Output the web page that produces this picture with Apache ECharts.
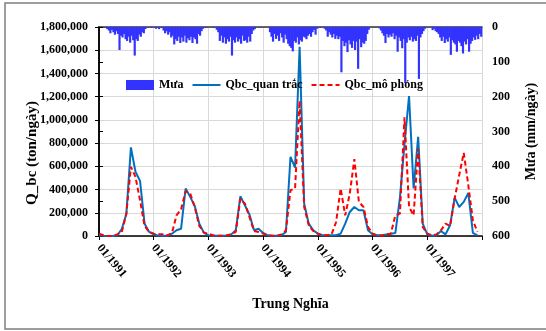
<!DOCTYPE html>
<html>
<head>
<meta charset="utf-8">
<script src="https://cdn.jsdelivr.net/npm/echarts@6/dist/echarts.min.js"></script>
<style>html,body{margin:0;padding:0;background:#fff}#c{width:546px;height:331px}</style>
</head>
<body>
<div id="c"></div>
<script>
// Tick labels (one per year, monthly index axis)
const tickLabels = ['01/1991','01/1992','01/1993','01/1994','01/1995','01/1996','01/1997'];

// Monthly sediment load Qbc (tấn/ngày), Jan 1991 .. Dec 1997
const qbcObserved = [
  5000, 2000, 1000, 1000, 5000, 60000, 190000, 763000, 553000, 475000, 106000, 35000,
  15000, 3000, 2000, 2000, 20000, 50000, 63000, 409000, 337000, 259000, 106000, 29000,
  6000, 3000, 2000, 2000, 5000, 14000, 49000, 342000, 265000, 184000, 49000, 63000,
  26000, 6000, 2000, 2000, 6000, 35000, 682000, 590000, 1630000, 279000, 106000, 49000,
  20000, 6000, 6000, 6000, 6000, 20000, 106000, 207000, 250000, 222000, 222000, 49000,
  14000, 6000, 6000, 14000, 20000, 26000, 330000, 790000, 1206000, 409000, 855000, 106000,
  14000, 2000, 6000, 43000, 14000, 92000, 331000, 250000, 294000, 370000, 26000, 6000
];
const qbcSimulated = [
  20000, 6000, 1000, 1000, 14000, 35000, 193000, 596000, 509000, 308000, 86000, 35000,
  20000, 14000, 14000, 6000, 26000, 178000, 230000, 386000, 366000, 250000, 86000, 29000,
  20000, 6000, 2000, 2000, 6000, 14000, 35000, 322000, 279000, 164000, 43000, 35000,
  20000, 6000, 2000, 2000, 14000, 49000, 394000, 409000, 1165000, 250000, 92000, 43000,
  20000, 6000, 6000, 14000, 120000, 409000, 178000, 366000, 662000, 294000, 250000, 78000,
  20000, 6000, 2000, 14000, 20000, 178000, 193000, 1022000, 250000, 178000, 754000, 78000,
  20000, 6000, 14000, 49000, 106000, 86000, 322000, 524000, 716000, 437000, 135000, 35000
];

// Rainfall (mm/ngày), read per 10-day period (3 per month, 36 per year)
const rain1991 = [0,0,0, 0,3,6, 10,18,8, 15,22,12, 20,66,25, 30,20,35, 40,28,45, 25,38,82, 35,40,22, 28,15,18, 6,2,0, 0,3,0];
const rain1992 = [0,5,0, 6,0,3, 10,18,12, 22,15,30, 25,50,35, 40,28,46, 30,42,25, 45,32,38, 28,46,30, 35,48,20, 25,12,5, 0,3,0];
const rain1993 = [0,0,0, 3,0,8, 15,40,25, 45,30,48, 35,42,28, 82,38,45, 30,42,35, 48,25,40, 38,45,28, 42,20,10, 6,0,0, 0,2,0];
const rain1994 = [0,0,0, 0,15,28, 42,20,34, 25,40,18, 30,45,22, 35,48,55, 60,70,40, 45,30,50, 38,42,28, 30,35,25, 20,28,15, 8,22,5];
const rain1995 = [0,3,0, 0,5,10, 28,15,22, 30,20,34, 25,35,28, 130,40,55, 45,72,38, 50,60,40, 66,42,120, 35,58,45, 48,40,20, 8,0,0];
const rain1996 = [0,0,0, 0,4,10, 18,25,46, 20,30,22, 28,18,35, 25,71,30, 40,61,35, 161,45,30, 38,28,42, 35,40,25, 149,30,20, 12,5,0];
const rain1997 = [0,0,0, 9,5,12, 15,20,30, 40,28,46, 35,42,30, 80,38,45, 50,71,40, 45,55,76, 42,50,35, 71,48,40, 30,37,25, 35,20,28];

const rainYears = [rain1991, rain1992, rain1993, rain1994, rain1995, rain1996, rain1997];
const rainData = [];
rainYears.forEach((arr, y) => {
  arr.forEach((v, k) => { rainData.push([y * 12 + (k + 0.5) / 3, v]); });
});
const obsData = qbcObserved.map((v, i) => [i, v]);
const simData = qbcSimulated.map((v, i) => [i, v]);

const FONT = 'Liberation Serif';
const txt = (size) => ({ fontFamily: FONT, fontWeight: 'bold', fontSize: size, color: '#000' });

const chart = echarts.init(document.getElementById('c'), null, { renderer: 'canvas' });
chart.setOption({
  animation: false,
  backgroundColor: '#fff',
  grid: { left: 99, right: 44, top: 27, bottom: 95, containLabel: false },
  legend: {
    top: 74, left: 121, itemWidth: 28, itemHeight: 10, itemGap: 8,
    textStyle: txt(12),
    data: [
      { name: 'Mưa', icon: 'rect' },
      { name: 'Qbc_quan trắc', itemStyle: { opacity: 0 } },
      { name: 'Qbc_mô phỏng', itemStyle: { opacity: 0 } }
    ]
  },
  xAxis: [
    {
      type: 'value', min: 0, max: 84, interval: 12,
      axisLine: { show: true, onZero: false, lineStyle: { color: '#000', width: 1.5 } },
      axisTick: { show: true, length: 4, lineStyle: { color: '#000' } },
      splitLine: { show: true, lineStyle: { color: '#d9d9d9', width: 1 } },
      axisLabel: {
        rotate: -50, margin: 10, ...txt(12),
        formatter: (v) => tickLabels[Math.round(v / 12)] || ''
      },
      name: 'Trung Nghĩa', nameLocation: 'middle', nameGap: 61,
      nameTextStyle: txt(14)
    },
    {
      type: 'value', position: 'top', min: 0, max: 84,
      axisLine: { show: true, onZero: false, lineStyle: { color: '#333', width: 1.5 } },
      axisTick: { show: false }, axisLabel: { show: false }, splitLine: { show: false }
    }
  ],
  yAxis: [
    {
      type: 'value', min: 0, max: 1800000, interval: 200000,
      axisLine: { show: true, lineStyle: { color: '#000', width: 1.5 } },
      axisTick: { show: true, length: 4, lineStyle: { color: '#000' } },
      splitLine: { show: true, lineStyle: { color: '#d9d9d9', width: 1 } },
      axisLabel: {
        margin: 11, ...txt(12),
        formatter: (v) => String(v).replace(/\B(?=(\d{3})+(?!\d))/g, ',')
      }
    },
    {
      type: 'value', position: 'right', inverse: true, min: 0, max: 600, interval: 100,
      axisLine: { show: true, lineStyle: { color: '#000', width: 1.5 } },
      axisTick: { show: true, length: 4, lineStyle: { color: '#000' } },
      splitLine: { show: false },
      axisLabel: { margin: 10, ...txt(12) },
      name: 'Mưa (mm/ngày)', nameLocation: 'middle', nameGap: 42,
      nameTextStyle: txt(14)
    }
  ],
  graphic: [
    {
      type: 'rect', shape: { x: 5, y: 3, width: 600, height: 326 },
      style: { fill: 'none', stroke: '#7f7f7f', lineWidth: 1.5 }, silent: true, z: -10
    },
    {
      type: 'text', x: 32, y: 153, rotation: Math.PI / 2,
      style: {
        text: 'Q_bc (ton/ngày)', fontFamily: FONT, fontWeight: 'bold', fontSize: 15,
        fill: '#000', align: 'center', verticalAlign: 'middle'
      }
    }
  ],
  series: [
    {
      name: 'Mưa', type: 'bar', xAxisIndex: 0, yAxisIndex: 1,
      data: rainData, barWidth: 2.2,
      itemStyle: { color: '#3333ff' }, z: 1
    },
    {
      name: 'Qbc_quan trắc', type: 'line', xAxisIndex: 0, yAxisIndex: 0,
      data: obsData, symbol: 'none',
      lineStyle: { color: '#0070c0', width: 2 }, itemStyle: { color: '#0070c0' }, z: 3
    },
    {
      name: 'Qbc_mô phỏng', type: 'line', xAxisIndex: 0, yAxisIndex: 0,
      data: simData, symbol: 'none',
      lineStyle: { color: '#ff0000', width: 2, type: [5, 3] }, itemStyle: { color: '#ff0000' }, z: 4
    }
  ]
});
</script>
</body>
</html>
